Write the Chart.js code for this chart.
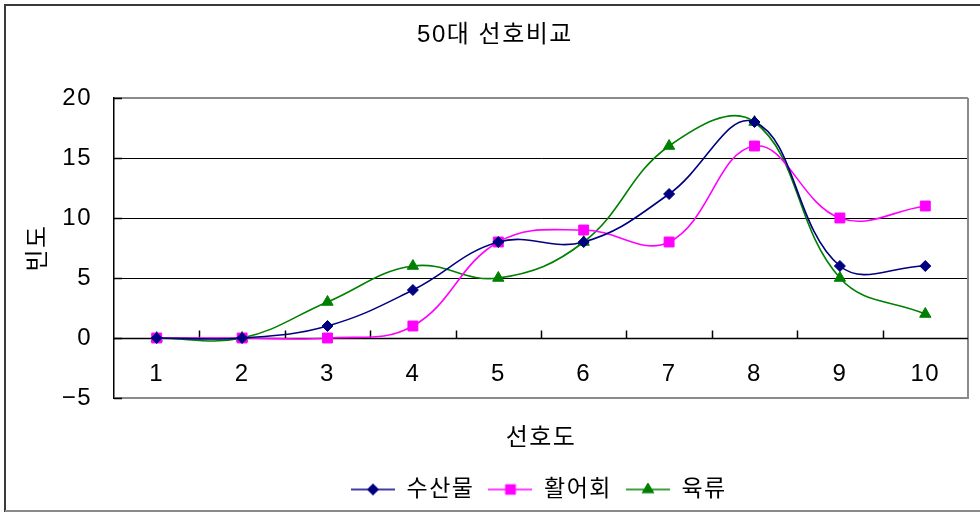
<!DOCTYPE html>
<html><head><meta charset="utf-8">
<script src="https://cdn.jsdelivr.net/npm/chart.js@4.4.0/dist/chart.umd.min.js"></script>
<style>html,body{margin:0;padding:0;background:#fff;overflow:hidden}</style>
</head><body>
<canvas id="c" width="980" height="513"></canvas>
<script>
const categories = ['1','2','3','4','5','6','7','8','9','10'];
const seriesNames = ['수산물','활어회','육류'];
const seafood = [0,0,1,4,8,8,12,18,6,6];
const rawFish = [0,0,0,1,8,9,8,16,10,11];
const meat = [0,0,3,6,5,8,16,18,5,2];
const yMin = -5, yMax = 20, yStep = 5;
const chartTitle = '50대 선호비교';
const xTitle = '선호도';
const yTitle = '빈도';

const FONT = "'Liberation Sans', 'Noto Sans CJK KR', sans-serif";
const FS = 24;
const colors = ['#000080', '#FF00FF', '#008000'];
const shapes = ['rectRot', 'rect', 'triangle'];
const radii = [5.5, 7, 6.5];
const legendRadii = [5, 6.5, 6];

Chart.defaults.font.family = FONT;
Chart.defaults.color = '#000';

function makeIcon(i) {
  const cv = document.createElement('canvas');
  cv.width = 44; cv.height = 14;
  const ctx = cv.getContext('2d');
  ctx.strokeStyle = colors[i]; ctx.lineWidth = 1.5;
  ctx.beginPath(); ctx.moveTo(0, 7); ctx.lineTo(44, 7); ctx.stroke();
  ctx.fillStyle = colors[i];
  Chart.helpers.drawPoint(ctx, {pointStyle: shapes[i], radius: legendRadii[i], rotation: 0, borderWidth: 1}, 22, 7);
  return cv;
}
const icons = [0,1,2].map(makeIcon);

const canvas = document.getElementById('c');
const c2d = canvas.getContext('2d');
if ('letterSpacing' in c2d) c2d.letterSpacing = '1.5px';

const PLOT_BOTTOM = 398;
const PAD_BOTTOM = 2;

const frame = {
  id: 'frame',
  afterLayout(chart) {
    chart.legend.left = 337;
    chart.titleBlock.left += 22;
  },
  beforeDraw(chart) {
    const ctx = chart.ctx;
    if ('letterSpacing' in ctx) ctx.letterSpacing = '1.5px';
    ctx.save();
    ctx.fillStyle = '#fff';
    ctx.fillRect(0, 0, chart.width, chart.height);
    ctx.lineWidth = 2;
    ctx.strokeStyle = '#3a3a3a';
    ctx.beginPath();
    ctx.moveTo(5, 512); ctx.lineTo(5, 5); ctx.lineTo(980, 5);
    ctx.stroke();
    ctx.strokeStyle = '#8a8a8a';
    ctx.beginPath(); ctx.moveTo(5, 511); ctx.lineTo(980, 511); ctx.stroke();
    ctx.restore();
  },
  beforeDatasetsDraw(chart) {
    const ctx = chart.ctx;
    const x = chart.scales.x, y = chart.scales.y;
    const a = chart.chartArea;
    const y0 = Math.round(y.getPixelForValue(0)) + 0.5;
    ctx.save();
    ctx.strokeStyle = '#8a8a8a'; ctx.lineWidth = 2;
    ctx.beginPath(); ctx.moveTo(a.right, a.top); ctx.lineTo(a.right, a.bottom + 1); ctx.stroke();
    ctx.strokeStyle = '#000'; ctx.lineWidth = 1.5;
    ctx.beginPath(); ctx.moveTo(a.left, y0); ctx.lineTo(a.right, y0); ctx.stroke();
    for (let i = 0; i < categories.length - 1; i++) {
      const bx = Math.round((x.getPixelForValue(i) + x.getPixelForValue(i + 1)) / 2) + 0.5;
      ctx.beginPath(); ctx.moveTo(bx, y0); ctx.lineTo(bx, y0 - 8); ctx.stroke();
    }
    for (let v = yMin; v <= yMax; v += yStep) {
      const py = Math.round(y.getPixelForValue(v)) + 0.5;
      ctx.beginPath(); ctx.moveTo(a.left, py); ctx.lineTo(a.left + 8, py); ctx.stroke();
    }
    ctx.fillStyle = '#000';
    ctx.font = FS + 'px ' + FONT;
    ctx.textAlign = 'center'; ctx.textBaseline = 'middle';
    categories.forEach((c, i) => ctx.fillText(c, x.getPixelForValue(i), y0 + 36));
    ctx.restore();
  }
};

const datasets = [seafood, rawFish, meat].map((d, i) => ({
  label: seriesNames[i],
  data: d,
  borderColor: colors[i],
  backgroundColor: colors[i],
  borderWidth: 1.6,
  tension: 0.4,
  pointStyle: shapes[i],
  pointRadius: radii[i],
  pointHoverRadius: radii[i],
  pointBorderWidth: 1,
  pointBackgroundColor: colors[i],
  pointBorderColor: colors[i],
  fill: false,
  clip: false
}));

new Chart(canvas, {
  type: 'line',
  data: { labels: categories, datasets },
  plugins: [frame],
  options: {
    responsive: false,
    devicePixelRatio: 1,
    animation: false,
    layout: { padding: { left: 0, right: 12, top: 0, bottom: PAD_BOTTOM } },
    plugins: {
      tooltip: { enabled: false },
      title: {
        display: true, text: chartTitle,
        font: { size: FS, weight: 'normal' }, color: '#000',
        padding: { top: 20.6, bottom: 48.6 }
      },
      legend: {
        position: 'bottom',
        align: 'start',
        labels: {
          usePointStyle: true,
          pointStyleWidth: 44,
          boxHeight: 14,
          padding: 14,
          font: { size: 23 },
          color: '#000',
          generateLabels(chart) {
            const items = Chart.defaults.plugins.legend.labels.generateLabels(chart);
            items.forEach((it, i) => { it.pointStyle = icons[i]; });
            return items;
          }
        }
      }
    },
    scales: {
      x: {
        type: 'category',
        offset: true,
        grid: { display: false },
        border: { display: false },
        ticks: { display: false },
        title: { display: true, text: xTitle, font: { size: FS }, color: '#000', padding: { top: 0, bottom: 11.6 } },
        afterFit(scale) {
          const lh = scale.chart.legend ? scale.chart.legend.height : 47;
          scale.height = (scale.chart.height - PAD_BOTTOM - lh) - PLOT_BOTTOM;
        }
      },
      y: {
        min: yMin, max: yMax,
        ticks: {
          stepSize: yStep, padding: 22, font: { size: FS }, color: '#000',
          callback: v => String(v).replace('-', '\u2212')
        },
        grid: {
          drawTicks: false,
          color: ctx => (ctx.tick && (ctx.tick.value === yMin || ctx.tick.value === yMax)) ? '#8a8a8a' : (ctx.tick && ctx.tick.value === 0 ? 'rgba(0,0,0,0)' : '#000'),
          lineWidth: ctx => (ctx.tick && (ctx.tick.value === yMin || ctx.tick.value === yMax)) ? 2 : 1
        },
        border: { display: true, color: '#000', width: 1.5 },
        title: { display: true, text: yTitle, font: { size: FS }, color: '#000', padding: { top: 23.6, bottom: 0 } },
        afterFit(scale) { scale.width = 114; }
      }
    }
  }
});
</script>
</body></html>
